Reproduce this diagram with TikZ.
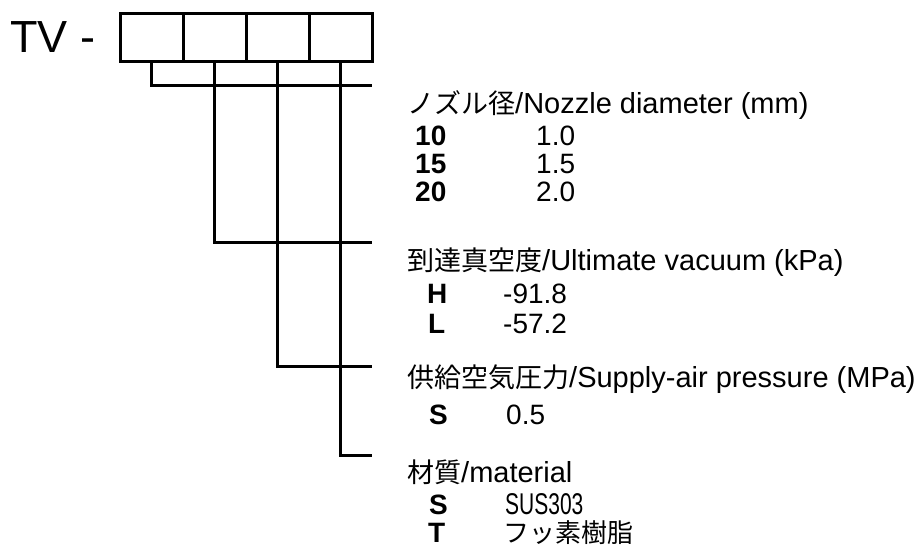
\documentclass[tikz,border=0pt]{standalone}
\usepackage{fontspec}
\setmainfont{Liberation Sans}
\newfontfamily\jpfont{Noto Sans CJK JP}
\newfontfamily\narrowfont[FakeStretch=0.7]{Liberation Sans}
\usetikzlibrary{positioning}

\newcommand{\jp}[1]{{\fontsize{27}{32}\jpfont #1}}

\tikzset{
	codebox/.style={draw, line width=3pt, minimum width=63pt, minimum height=48pt, inner sep=0pt, outer sep=0pt},
	leader/.style={line width=3pt},
	head/.style={anchor=base west, inner sep=0pt, font=\fontsize{29}{32}\selectfont},
	code/.style={anchor=base west, inner sep=0pt, font=\fontsize{28}{32}\selectfont\bfseries},
	val/.style={anchor=base west, inner sep=0pt, font=\fontsize{28}{32}\selectfont},
}

\begin{document}
\begin{tikzpicture}[x=1pt,y=-1pt]
	\useasboundingbox (0,0) rectangle (919,549);
	
	\node[anchor=base west, inner sep=0pt, font=\fontsize{45}{50}\selectfont] (tv) at (10,52) {TV -};
	\node[codebox] (b1) at (151.5,37) {};
	\node[codebox, right=0pt of b1] (b2) {};
	\node[codebox, right=0pt of b2] (b3) {};
	\node[codebox, right=0pt of b3] (b4) {};
	
	\coordinate (e1) at (372,85);
	\coordinate (e2) at (372,242);
	\coordinate (e3) at (372,366);
	\coordinate (e4) at (372,455);
	\draw[leader] (b1.south) |- (e1);
	\draw[leader] (b2.south) |- (e2);
	\draw[leader] (b3.south) |- (e3);
	\draw[leader] (b4.south) |- (e4);
	
	\node[head] (nozzle) at (407,113) {\jp{ノズル径}/Nozzle diameter (mm)};
	\node[code] (n10) at (415,145) {10};
	\node[code] (n15) at (415,173) {15};
	\node[code] (n20) at (415,201) {20};
	\node[val] (d10) at (536,145) {1.0};
	\node[val] (d15) at (536,173) {1.5};
	\node[val] (d20) at (536,201) {2.0};
	
	\node[head] (vacuum) at (407,270) {\jp{到達真空度}/Ultimate vacuum (kPa)};
	\node[code] (vh) at (427,303) {H};
	\node[code] (vl) at (428,333) {L};
	\node[val] (ph) at (503,303) {-91.8};
	\node[val] (pl) at (503,333) {-57.2};
	
	\node[head] (supply) at (407,387) {\jp{供給空気圧力}/Supply-air pressure (MPa)};
	\node[code] (ss) at (429,424) {S};
	\node[val] (ps) at (506,424) {0.5};
	
	\node[head] (material) at (407,482) {\jp{材質}/material};
	\node[code] (ms) at (429,514) {S};
	\node[code] (mt) at (428,542) {T};
	\node[val, font=\fontsize{30}{32}\narrowfont] (sus) at (505,514) {SUS303};
	\node[val, font=\fontsize{26}{32}\jpfont] (ptfe) at (503,542) {フッ素樹脂};
	
\end{tikzpicture}
\end{document}
